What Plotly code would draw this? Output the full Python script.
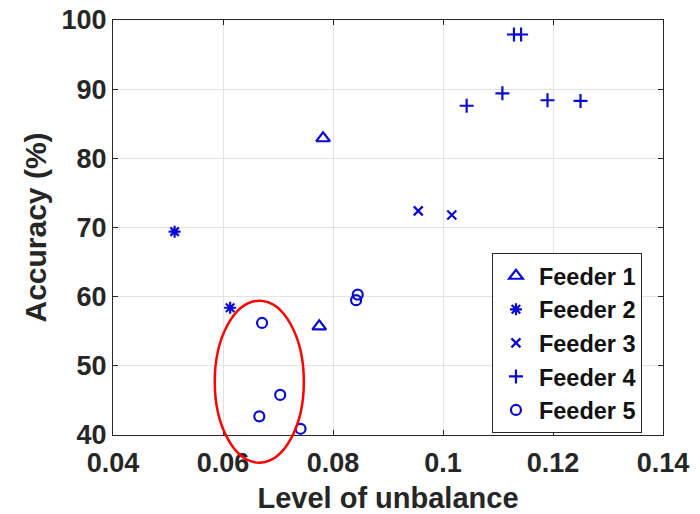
import plotly.graph_objects as go

# Data (Level of unbalance, Accuracy %)
f1_x = [0.0782, 0.0775]
f1_y = [82.9, 55.7]
f2_x = [0.0512, 0.0613]
f2_y = [69.4, 58.4]
f3_x = [0.0955, 0.1016]
f3_y = [72.4, 71.8]
f4_x = [0.1129, 0.1142, 0.1043, 0.1108, 0.1190, 0.1250]
f4_y = [97.9, 97.9, 87.6, 89.4, 88.4, 88.3]
f5_x = [0.0671, 0.0704, 0.0666, 0.0741, 0.0842, 0.0845]
f5_y = [56.2, 45.8, 42.7, 40.9, 59.5, 60.3]

names = ["Feeder 1", "Feeder 2", "Feeder 3", "Feeder 4", "Feeder 5"]
symbols = ["triangle-up-open", "asterisk-open", "x-thin-open", "cross-thin-open", "circle-open"]
sizes = [12, 10, 9, 10, 10]
xs = [f1_x, f2_x, f3_x, f4_x, f5_x]
ys = [f1_y, f2_y, f3_y, f4_y, f5_y]

x_ticks = [0.04, 0.06, 0.08, 0.1, 0.12, 0.14]
x_ticktext = ["0.04", "0.06", "0.08", "0.1", "0.12", "0.14"]
y_ticks = [40, 50, 60, 70, 80, 90, 100]

# highlight ellipse (data coords)
ell_x = [0.0585, 0.0747]
ell_y = [36.0, 59.4]

blue = "#0a0ad2"
fig = go.Figure()
for i in range(5):
    fig.add_trace(go.Scatter(
        x=xs[i], y=ys[i], mode="markers", name=names[i],
        marker=dict(symbol=symbols[i], size=sizes[i], color=blue,
                    line=dict(width=2.2, color=blue)),
    ))

xr = [0.04, 0.14]
yr = [40, 100]
def px_(v):
    return (v - xr[0]) / (xr[1] - xr[0])
def py_(v):
    return (v - yr[0]) / (yr[1] - yr[0])

fig.add_shape(type="circle", xref="paper", yref="paper",
              x0=px_(ell_x[0]), x1=px_(ell_x[1]), y0=py_(ell_y[0]), y1=py_(ell_y[1]),
              line=dict(color="#ff0000", width=2.5), layer="above")

font_fam = "Liberation Sans, Arial, sans-serif"
axcol = "#262626"
fig.update_layout(
    width=700, height=514,
    margin=dict(l=113, r=37, t=20, b=79),
    paper_bgcolor="white", plot_bgcolor="white",
    font=dict(family=font_fam, color=axcol),
    showlegend=True,
    legend=dict(x=0.689, y=0.4386, xanchor="left", yanchor="top",
                bgcolor="white", bordercolor=axcol, borderwidth=1,
                font=dict(size=23.5, family=font_fam, color="#111111", weight="bold"),
                tracegroupgap=0, itemwidth=36),
    xaxis=dict(range=xr, tickvals=x_ticks, ticktext=x_ticktext, automargin=False,
               showgrid=True, gridcolor="#e3e3e3", gridwidth=1,
               showline=True, linecolor=axcol, linewidth=1, mirror="ticks",
               ticks="inside", ticklen=5, tickcolor=axcol, ticklabelstandoff=4,
               tickfont=dict(size=27, weight="bold", color=axcol),
               title=dict(text="Level of unbalance", font=dict(size=29, weight="bold", color=axcol), standoff=12),
               zeroline=False),
    yaxis=dict(range=yr, tickvals=y_ticks, automargin=False,
               showgrid=True, gridcolor="#e3e3e3", gridwidth=1,
               showline=True, linecolor=axcol, linewidth=1, mirror="ticks",
               ticks="inside", ticklen=5, tickcolor=axcol,
               tickfont=dict(size=27, weight="bold", color=axcol),
               title=dict(text="Accuracy (%)", font=dict(size=30, weight="bold", color=axcol), standoff=6),
               zeroline=False),
)

fig.write_html("out.html")
